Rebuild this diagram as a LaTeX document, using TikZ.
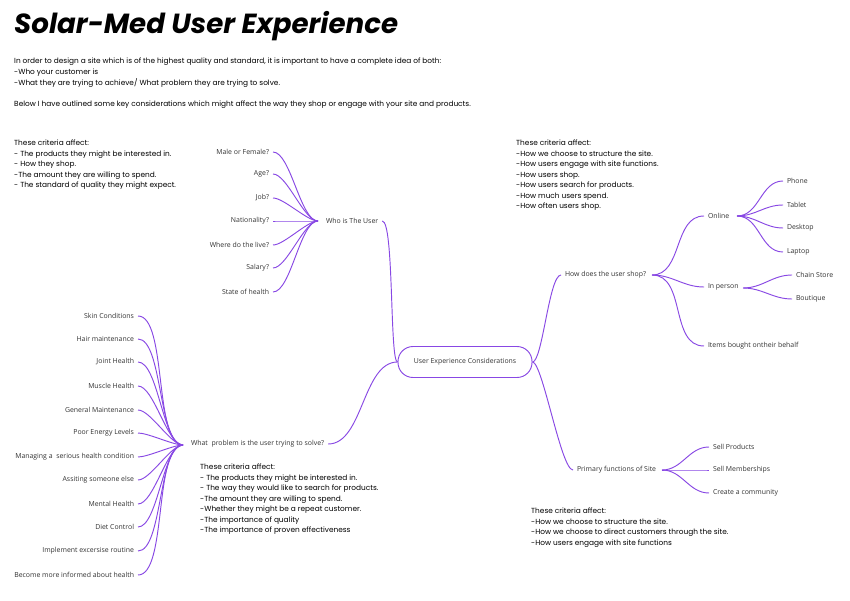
\documentclass[tikz,border=0pt]{standalone}
\usepackage{fontspec}
\setmainfont{Open Sans}
\newfontfamily\critfont{Poppins}
\definecolor{uxpurple}{RGB}{136,72,228}
\definecolor{uxgrey}{RGB}{51,51,51}

\begin{document}
\begin{tikzpicture}[x=0.03cm,y=-0.03cm,
  lbl/.style={inner sep=0pt,outer sep=1.2mm,text=uxgrey,font=\fontsize{5.9}{7}\selectfont},
  crit/.style={inner sep=0pt,anchor=north west,align=left,font=\critfont\fontsize{6.3}{8.9}\selectfont},
  conn/.style={uxpurple,line width=0.8pt},
  fan/.style={out=0,in=180,looseness=0.55}]
\useasboundingbox[fill=white] (0,0) rectangle (850,601);

\node[inner sep=0pt,anchor=west,font=\critfont\bfseries\itshape\fontsize{23.6}{28}\selectfont] (title) at (14,26) {Solar-Med User Experience};
\node[crit,font=\critfont\fontsize{6.3}{9.4}\selectfont] (intro) at (14,58) {In order to design a site which is of the highest quality and standard, it is important to have a complete idea of both:\\
-Who your customer is\\
-What they are trying to achieve/ What problem they are trying to solve.\\[8.5pt]
Below I have outlined some key considerations which might affect the way they shop or engage with your site and products.};

\node[crit] (critwho) at (14,140) {These criteria affect:\\
- The products they might be interested in.\\
- How they shop.\\
-The amount they are willing to spend.\\
- The standard of quality they might expect.};
\node[crit] (critshop) at (516,140) {These criteria affect:\\
-How we choose to structure the site.\\
-How users engage with site functions.\\
-How users shop.\\
-How users search for products.\\
-How much users spend.\\
-How often users shop.};
\node[crit] (critwhat) at (200,464) {These criteria affect:\\
- The products they might be interested in.\\
- The way they would like to search for products.\\
-The amount they are willing to spend.\\
-Whether they might be a repeat customer.\\
-The importance of quality\\
-The importance of proven effectiveness};
\node[crit] (critsite) at (531,508) {These criteria affect:\\
-How we choose to structure the site.\\
-How we choose to direct customers through the site.\\
-How users engage with site functions};

% centre
\node[draw=uxpurple,line width=0.8pt,rounded corners=4.5mm,minimum width=4.02cm,minimum height=0.93cm,inner sep=0pt,text=uxgrey,font=\fontsize{5.9}{7}\selectfont] (ux) at (465,362) {User Experience Considerations};

% main branches
\node[lbl,anchor=west] (who) at (322,221) {Who is The User};
\node[lbl,anchor=west] (what) at (187,444) {What\ \ problem is the user trying to solve?};
\node[lbl,anchor=west] (shop) at (561,275) {How does the user shop?};
\node[lbl,anchor=west] (site) at (573,470) {Primary functions of Site};
\coordinate (whohub) at (318,221);
\coordinate (whathub) at (183,445);
\coordinate (shophub) at (652,275);
\coordinate (sitehub) at (662,470);

\draw[conn] (who.east) .. controls +(12,0) and +(-8,0) .. (ux.west);
\draw[conn] (ux.west) .. controls +(-35,0) and +(35,0) .. (what.east);
\draw[conn] (ux.east) .. controls +(10,0) and +(-12,0) .. (shop.west);
\draw[conn] (ux.east) .. controls +(10,0) and +(-12,0) .. (site.west);

% who is the user
\node[lbl,anchor=east] (gender) at (273,152) {Male or Female?};
\node[lbl,anchor=east] (age) at (273,174) {Age?};
\node[lbl,anchor=east] (job) at (273,198) {Job?};
\node[lbl,anchor=east] (nation) at (273,221) {Nationality?};
\node[lbl,anchor=east] (live) at (273,245) {Where do the live?};
\node[lbl,anchor=east] (salary) at (273,268) {Salary?};
\node[lbl,anchor=east] (health) at (273,292) {State of health};
\draw[conn] (gender.east) to[fan] (whohub);
\draw[conn] (age.east) to[fan] (whohub);
\draw[conn] (job.east) to[fan] (whohub);
\draw[conn] (nation.east) to[fan] (whohub);
\draw[conn] (live.east) to[fan] (whohub);
\draw[conn] (salary.east) to[fan] (whohub);
\draw[conn] (health.east) to[fan] (whohub);

% what problem
\node[lbl,anchor=east] (skin) at (138,316) {Skin Conditions};
\node[lbl,anchor=east] (hair) at (138,339) {Hair maintenance};
\node[lbl,anchor=east] (joint) at (138,362) {Joint Health};
\node[lbl,anchor=east] (muscle) at (138,386) {Muscle Health};
\node[lbl,anchor=east] (general) at (138,410) {General Maintenance};
\node[lbl,anchor=east] (energy) at (138,433) {Poor Energy Levels};
\node[lbl,anchor=east] (serious) at (138,457) {Managing a\ \ serious health condition};
\node[lbl,anchor=east] (assist) at (138,480) {Assiting someone else};
\node[lbl,anchor=east] (mental) at (138,504) {Mental Health};
\node[lbl,anchor=east] (diet) at (138,527) {Diet Control};
\node[lbl,anchor=east] (exercise) at (138,551) {Implement excersise routine};
\node[lbl,anchor=east] (informed) at (138,575) {Become more informed about health};
\draw[conn] (skin.east) to[fan] (whathub);
\draw[conn] (hair.east) to[fan] (whathub);
\draw[conn] (joint.east) to[fan] (whathub);
\draw[conn] (muscle.east) to[fan] (whathub);
\draw[conn] (general.east) to[fan] (whathub);
\draw[conn] (energy.east) to[fan] (whathub);
\draw[conn] (serious.east) to[fan] (whathub);
\draw[conn] (assist.east) to[fan] (whathub);
\draw[conn] (mental.east) to[fan] (whathub);
\draw[conn] (diet.east) to[fan] (whathub);
\draw[conn] (exercise.east) to[fan] (whathub);
\draw[conn] (informed.east) to[fan] (whathub);

% how does the user shop
\node[lbl,anchor=west] (online) at (704,216) {Online};
\node[lbl,anchor=west] (person) at (704,287) {In person};
\node[lbl,anchor=west] (behalf) at (704,346) {Items bought ontheir behalf};
\coordinate (onlinehub) at (737,216);
\coordinate (personhub) at (743,288);
\draw[conn] (shophub) to[out=0,in=180] (online.west);
\draw[conn] (shophub) to[out=0,in=180] (person.west);
\draw[conn] (shophub) to[out=0,in=180] (behalf.west);

\node[lbl,anchor=west] (phone) at (783,181) {Phone};
\node[lbl,anchor=west] (tablet) at (783,205) {Tablet};
\node[lbl,anchor=west] (desktop) at (783,228) {Desktop};
\node[lbl,anchor=west] (laptop) at (783,252) {Laptop};
\draw[conn] (onlinehub) to[out=0,in=180] (phone.west);
\draw[conn] (onlinehub) to[out=0,in=180] (tablet.west);
\draw[conn] (onlinehub) to[out=0,in=180] (desktop.west);
\draw[conn] (onlinehub) to[out=0,in=180] (laptop.west);

\node[lbl,anchor=west] (chain) at (792,275) {Chain Store};
\node[lbl,anchor=west] (boutique) at (792,299) {Boutique};
\draw[conn] (personhub) to[out=0,in=180] (chain.west);
\draw[conn] (personhub) to[out=0,in=180] (boutique.west);

% primary functions
\node[lbl,anchor=west] (products) at (709,447) {Sell Products};
\node[lbl,anchor=west] (members) at (709,470) {Sell Memberships};
\node[lbl,anchor=west] (community) at (709,493) {Create a community};
\draw[conn] (sitehub) to[out=0,in=180] (products.west);
\draw[conn] (sitehub) to[out=0,in=180] (members.west);
\draw[conn] (sitehub) to[out=0,in=180] (community.west);
\end{tikzpicture}
\end{document}
